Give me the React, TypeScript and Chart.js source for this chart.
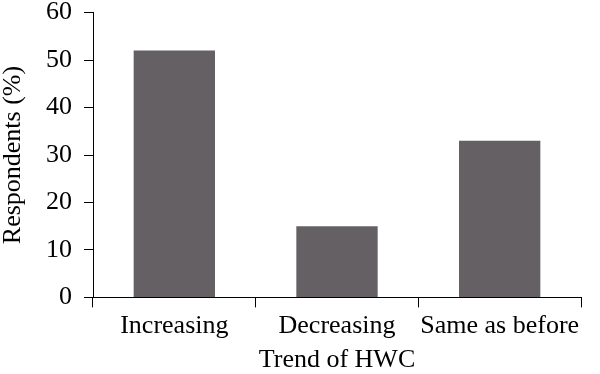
import React, { useEffect, useRef } from "react";
import { Chart, registerables } from "chart.js";

Chart.register(...registerables);

const categories = ["Increasing", "Decreasing", "Same as before"];
const respondents = [52, 15, 33];
const yTicks = [0, 10, 20, 30, 40, 50, 60];

export default function App() {
  const ref = useRef<HTMLCanvasElement>(null);
  useEffect(() => {
    document.body.style.margin = "0";
    const family = "'Liberation Serif', 'Times New Roman', serif";
    const chart = new Chart(ref.current!, {
      type: "bar",
      data: {
        labels: categories,
        datasets: [
          {
            data: respondents,
            backgroundColor: "#656063",
            borderWidth: 0,
            barPercentage: 0.5,
            categoryPercentage: 1,
          },
        ],
      },
      options: {
        animation: false,
        responsive: false,
        maintainAspectRatio: false,
        layout: { padding: { top: 0, right: 19, left: 0, bottom: 0 } },
        plugins: { legend: { display: false }, tooltip: { enabled: false } },
        scales: {
          x: {
            grid: { display: true, offset: true, drawOnChartArea: false, drawTicks: true, tickLength: 10, color: "#000" },
            border: { display: true, color: "#000", width: 1 },
            ticks: { color: "#000", font: { family, size: 26, lineHeight: 1 }, padding: 6, maxRotation: 0, autoSkip: false },
            title: { display: true, text: "Trend of HWC", color: "#000", font: { family, size: 26, lineHeight: 1.1 }, padding: { top: 0, bottom: 0 } },
          },
          y: {
            min: 0,
            max: 60,
            afterBuildTicks: (axis: any) => {
              axis.ticks = yTicks.map((v) => ({ value: v }));
            },
            grid: { display: true, drawOnChartArea: false, drawTicks: true, tickLength: 9, color: "#000" },
            border: { display: true, color: "#000", width: 1 },
            ticks: { color: "#000", font: { family, size: 26, lineHeight: 0.05 }, padding: 12 },
            title: { display: true, text: "Respondents (%)", color: "#000", font: { family, size: 26, lineHeight: 1 }, padding: { top: 0, bottom: 8 } },
          },
        },
      },
    });
    return () => chart.destroy();
  }, []);
  return (
    <div style={{ width: 600, height: 374 }}>
      <canvas ref={ref} width={600} height={374} style={{ display: "block" }} />
    </div>
  );
}
